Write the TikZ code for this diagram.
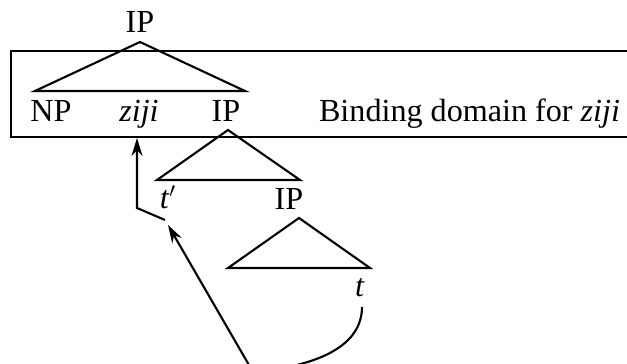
\documentclass[tikz,border=0pt]{standalone}
\usepackage{fontspec}
\setmainfont{Liberation Serif}
\usetikzlibrary{arrows.meta}

\begin{document}
\begin{tikzpicture}[x=0.02cm,y=-0.02cm,line width=1.2pt,
    lbl/.style={anchor=base,inner sep=0pt,font=\fontsize{18.3}{21}\selectfont},
    mv/.style={-{Stealth[length=3.6mm,width=2.2mm]}}]
   \useasboundingbox (0,0) rectangle (627,364);
   % labels
   \node[lbl] (ip1) at (140,33)  {IP};
   \node[lbl] (np)  at (51,122)  {NP};
   \node[lbl] (ziji) at (139,122) {\textit{ziji}};
   \node[lbl] (ip2) at (226,122) {IP};
   \node[lbl,anchor=base west] (dom) at (318,122) {Binding domain for \textit{ziji}};
   \node[lbl] (tp)  at (168,209) {\textit{t}$'$};
   \node[lbl] (ip3) at (289,210) {IP};
   \node[lbl] (t)   at (360,297) {\textit{t}};
   % the box
   \draw (640,51) -- (11,51) -- (11,137) -- (640,137);
   % triangles
   \draw (140,42) -- (35,91) -- (245,91) -- cycle;
   \draw (228,130) -- (157,180) -- (300,180) -- cycle;
   \draw (299,218) -- (228,268) -- (370,268) -- cycle;
   % movement path
   \coordinate (bend) at (137,208);
   \coordinate (hop)  at (165,220);
   \coordinate (tip)  at (168,225);
   \coordinate (low)  at (253,372);
   \draw[mv] (hop) -- (bend) -- (137,138);
   \draw[mv] (362,307) .. controls (362,345) and (320,366) .. (low) -- (tip);
\end{tikzpicture}
\end{document}
